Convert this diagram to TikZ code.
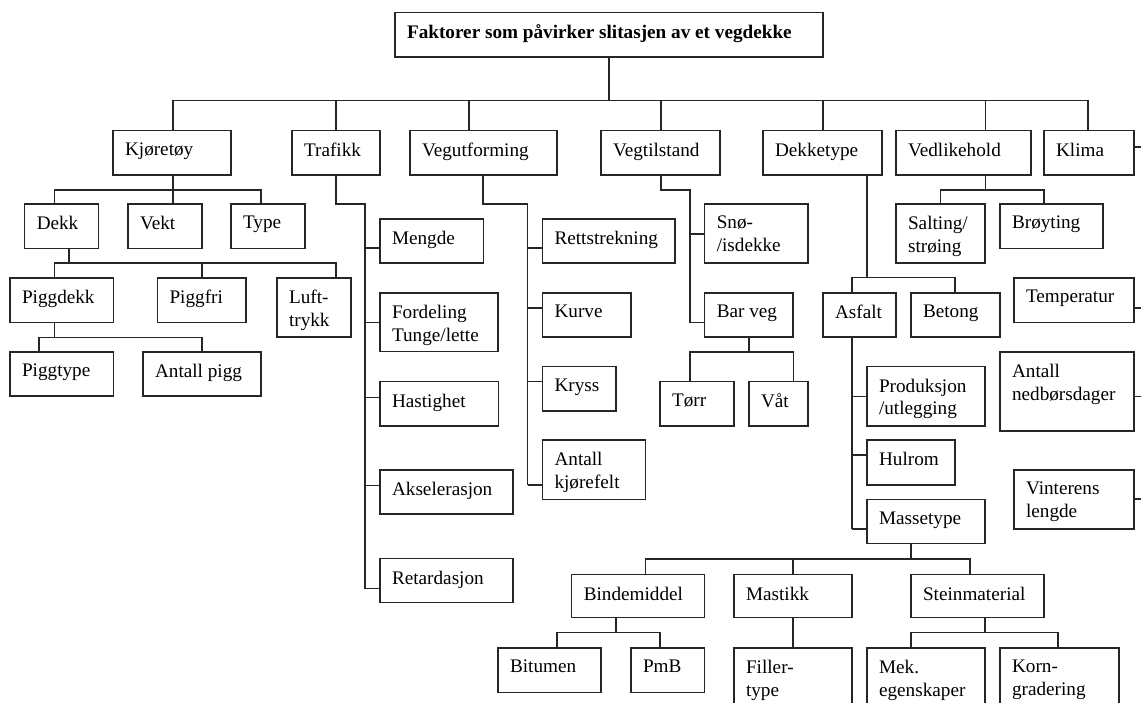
\documentclass[tikz,border=0pt]{standalone}
\usepackage{fontspec}
\setmainfont{Liberation Serif}
\usetikzlibrary{fit}
\tikzset{
  boks/.style={draw=black!85, line width=1.3pt, inner sep=0pt},
  tekst/.style={anchor=north west, inner sep=0pt, align=left, font=\fontsize{19.2}{22.8}\selectfont},
  linje/.style={draw=black!85, line width=1.3pt}
}
\newcommand{\boks}[6]{%
  \node[boks, fit={(#2,#3) (#4,#5)}] (#1) {};
  \node[tekst] (#1-t) at ([shift={(12.5,12.5)}]#1.north west) {#6};}
\begin{document}
\begin{tikzpicture}[x=1pt, y=-1pt]
\useasboundingbox (0,0) rectangle (1141,702);
\clip (0,0) rectangle (1141,702);

\boks{title}{395}{12.7}{823}{57}{\bfseries Faktorer som påvirker slitasjen av et vegdekke}

\boks{kjoretoy}{113}{130.7}{231}{175}{Kjøretøy}
\boks{trafikk}{292}{130.7}{380}{175}{Trafikk}
\boks{vegutf}{410}{130.7}{557}{175}{Vegutforming}
\boks{vegtil}{601}{130.7}{720}{175}{Vegtilstand}
\boks{dekketype}{763}{130.7}{882}{175}{Dekketype}
\boks{vedlikehold}{896}{130.7}{1031}{175}{Vedlikehold}
\boks{klima}{1044}{130.7}{1134}{175}{Klima}

\boks{dekk}{24.7}{204}{98.5}{248.7}{Dekk}
\boks{vekt}{128}{204}{202}{248.7}{Vekt}
\boks{type}{231}{204}{305}{248.7}{Type}
\boks{piggdekk}{10}{278}{113.5}{322.7}{Piggdekk}
\boks{piggfri}{157.5}{278}{246}{322.7}{Piggfri}
\boks{luft}{277}{278}{351}{337}{Luft-\\trykk}
\boks{piggtype}{10}{352}{113.5}{396}{Piggtype}
\boks{antallpigg}{143}{352}{261}{396}{Antall pigg}

\boks{mengde}{380}{219}{483.6}{263}{Mengde}
\boks{fordeling}{380}{293}{498}{351.7}{Fordeling\\Tunge/lette}
\boks{hastighet}{380}{381.7}{498.5}{426}{Hastighet}
\boks{aksel}{380}{470}{513}{514}{Akselerasjon}
\boks{retard}{380}{558.7}{513}{602.7}{Retardasjon}

\boks{rett}{542.5}{219}{675}{263}{Rettstrekning}
\boks{kurve}{542.5}{293}{631}{337}{Kurve}
\boks{kryss}{542.5}{366.7}{616}{411}{Kryss}
\boks{kjorefelt}{542.5}{440}{645.7}{499.7}{Antall\\kjørefelt}

\boks{sno}{704.7}{204}{808}{263}{Snø-\\/isdekke}
\boks{barveg}{704.7}{293}{793}{337}{Bar veg}
\boks{torr}{660}{381.7}{734}{426}{Tørr}
\boks{vat}{749}{381.7}{808}{426}{Våt}

\boks{asfalt}{823}{293}{896}{337}{Asfalt}
\boks{betong}{911}{293}{1000}{337}{Betong}
\boks{prod}{867}{366.7}{985}{426}{Produksjon\\/utlegging}
\boks{hulrom}{867}{440}{955}{485}{Hulrom}
\boks{massetype}{867}{499.7}{985}{543.7}{Massetype}
\boks{binde}{571.8}{574.7}{704.4}{617.7}{Bindemiddel}
\boks{mastikk}{734}{574.7}{852}{617.7}{Mastikk}
\boks{stein}{911}{574.7}{1044}{617.7}{Steinmaterial}
\boks{bitumen}{498}{648}{601}{692.7}{Bitumen}
\boks{pmb}{631}{648}{704.4}{692.7}{PmB}
\boks{filler}{734}{648}{852}{720}{Filler-\\type}
\boks{mek}{867}{648}{985}{720}{Mek.\\egenskaper}
\boks{korn}{1000}{648}{1119}{720}{Korn-\\gradering}

\boks{salting}{896}{204}{985}{263}{Salting/\\strøing}
\boks{broyting}{1000}{204}{1103}{248.7}{Brøyting}

\boks{temp}{1014}{278}{1134}{322.7}{Temperatur}
\boks{nedbor}{1000}{352}{1134}{431}{Antall\\nedbørsdager}
\boks{vinter}{1014}{470}{1134}{529}{Vinterens\\lengde}

\coordinate (b1) at (609,100.7);
\draw[linje] (title) -- (b1);
\draw[linje] (kjoretoy.north -| 173,0) |- (b1) -| (klima.north -| 1088,0);
\foreach \n/\x in {trafikk/336, vegutf/469, vegtil/661, dekketype/823, vedlikehold/985.5}
  \draw[linje] (\n.north -| \x,0) -- (b1 -| \x,0);

\coordinate (kb) at (173,190);
\draw[linje] (kjoretoy.south -| kb) -- (kb);
\draw[linje] (dekk.north -| 54.5,0) |- (kb) -| (type.north -| 261,0);
\draw[linje] (vekt.north -| kb) -- (kb);

\coordinate (db) at (69,263);
\draw[linje] (dekk.south -| db) -- (db);
\draw[linje] (piggdekk.north -| 54.5,0) |- (db) -| (luft.north -| 336,0);
\draw[linje] (piggfri.north -| 202,0) -- (db -| 202,0);

\coordinate (pb) at (54.5,337.3);
\draw[linje] (piggdekk.south -| pb) -- (pb);
\draw[linje] (piggtype.north -| 39,0) |- (pb) -| (antallpigg.north -| 202,0);

\coordinate (tb) at (365,204);
\draw[linje] (trafikk.south -| 336,0) |- (tb) -- (365,588.7);
\foreach \n/\y in {mengde/248, fordeling/322.7, hastighet/397.3, aksel/485.7, retard/588.7}
  \draw[linje] (tb |- 0,\y) -- (\n.west |- 0,\y);

\coordinate (vb) at (527.6,204);
\draw[linje] (vegutf.south -| 483,0) |- (vb) -- (527.6,485);
\foreach \n/\y in {rett/248, kurve/308, kryss/381.7, kjorefelt/485}
  \draw[linje] (vb |- 0,\y) -- (\n.west |- 0,\y);

\coordinate (sb) at (690,190);
\draw[linje] (vegtil.south -| 661,0) |- (sb) -- (690,322.7);
\foreach \n/\y in {sno/234, barveg/322.7}
  \draw[linje] (sb |- 0,\y) -- (\n.west |- 0,\y);

\coordinate (bb) at (749,352);
\draw[linje] (barveg.south -| bb) -- (bb);
\draw[linje] (torr.north -| 690,0) |- (bb) -| (vat.north -| 793.6,0);

\coordinate (ab) at (867,277.7);
\draw[linje] (dekketype.south -| ab) -- (ab);
\draw[linje] (asfalt.north -| 852,0) |- (ab) -| (betong.north -| 955,0);

\draw[linje] (asfalt.south -| 852,0) -- (852,529);
\foreach \n/\y in {prod/396.7, hulrom/455, massetype/529}
  \draw[linje] (852,\y) -- (\n.west |- 0,\y);

\coordinate (mb) at (911,559);
\draw[linje] (massetype.south -| mb) -- (mb);
\draw[linje] (binde.north -| 645.7,0) |- (mb) -| (stein.north -| 970,0);
\draw[linje] (mastikk.north -| 793,0) -- (mb -| 793,0);

\coordinate (bib) at (616,632.7);
\draw[linje] (binde.south -| bib) -- (bib);
\draw[linje] (bitumen.north -| 557,0) |- (bib) -| (pmb.north -| 660,0);
\draw[linje] (mastikk) -- (filler);

\coordinate (stb) at (985,632.7);
\draw[linje] (stein.south -| stb) -- (stb);
\draw[linje] (mek.north -| 911,0) |- (stb) -| (korn.north -| 1058,0);

\coordinate (veb) at (985.5,190);
\draw[linje] (vedlikehold.south -| veb) -- (veb);
\draw[linje] (salting.north -| 940.7,0) |- (veb) -| (broyting.north -| 1044,0);

\foreach \n/\y in {klima/147, temp/308, nedbor/396.7, vinter/499}
  \draw[linje] (\n.east |- 0,\y) -- ++(20,0);
\end{tikzpicture}
\end{document}
